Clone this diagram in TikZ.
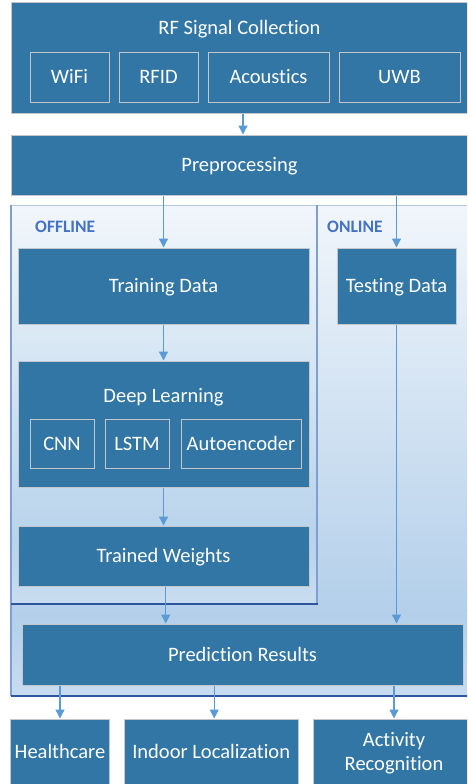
\documentclass[tikz,border=0pt]{standalone}
\usepackage{fontspec}
\setmainfont{Carlito}[Ligatures=NoCommon]
\usetikzlibrary{arrows.meta}
\definecolor{boxblue}{HTML}{3176A4}
\definecolor{boxedge}{HTML}{C3C7CC}
\definecolor{arrowblue}{HTML}{5B9BD5}
\definecolor{lab}{HTML}{4472C4}
\definecolor{gtop}{HTML}{F1F6FB}
\definecolor{gmid}{HTML}{B3CFEA}
\definecolor{gbot}{HTML}{C8DCF0}
\definecolor{gmidoff}{HTML}{B8D3EB}
\definecolor{gbotoff}{HTML}{C9DDF0}
\definecolor{edgemid}{HTML}{7F9ED2}
\definecolor{edgedark}{HTML}{2F55A0}
\definecolor{edgelight}{HTML}{B4C8E2}
\begin{document}
\begin{tikzpicture}[x=1pt,y=-1pt,
  box/.style={draw=boxedge, line width=1pt, fill=boxblue, text=white,
    font=\fontsize{20.5}{24}\selectfont, inner sep=0pt,
    text height=13pt, text depth=0pt},
  title/.style={text=white, font=\fontsize{20.5}{24}\selectfont, inner sep=0pt, anchor=base},
  zone/.style={text=lab, font=\fontsize{17.5}{20}\selectfont\bfseries, inner sep=0pt, anchor=base west},
  arr/.style={draw=arrowblue, line width=1.3pt, -{Triangle[width=9pt,length=9pt]}}
]
\clip (0,0) rectangle (467,784);

% containers
\shade[top color=gtop, bottom color=gmid] (11,205) rectangle (475,615);
\shade[top color=gmid, bottom color=gbot] (11,615) rectangle (475,696);
\shade[top color=gtop, bottom color=gmidoff] (11,205) rectangle (317,540);
\shade[top color=gmidoff, bottom color=gbotoff] (11,540) rectangle (317,604);
\draw[edgelight, line width=1pt] (11,205) -- (475,205);
\draw[edgemid, line width=2pt] (11,205) -- (11,696);
\draw[edgemid, line width=1.6pt] (317,205) -- (317,604);
\draw[edgedark, line width=1.2pt] (11,604) -- (317.8,604);
\draw[edgedark, line width=1.2pt] (11,696) -- (475,696);
\node[zone] (offl) at (35,232) {OFFLINE};
\node[zone] (onl) at (327,232) {ONLINE};

% RF signal collection
\node[box, minimum width=457pt, minimum height=110pt] (rf) at (239.5,58) {};
\node[title] (rft) at (239.5,35) {RF Signal Collection};
\node[box, minimum width=79pt, minimum height=49pt] (wifi) at (69.5,77.5) {WiFi};
\node[box, minimum width=79pt, minimum height=49pt] (rfid) at (158.5,77.5) {RFID};
\node[box, minimum width=121pt, minimum height=49pt] (acou) at (268.5,77.5) {Acoustics};
\node[box, minimum width=121pt, minimum height=49pt] (uwb) at (399.5,77.5) {UWB};

\node[box, minimum width=457pt, minimum height=60pt] (pre) at (239.5,165) {Preprocessing};

\node[box, minimum width=291pt, minimum height=76pt] (train) at (163.5,286) {Training Data};
\node[box, minimum width=119pt, minimum height=76pt] (test) at (396.5,286) {Testing Data};

\node[box, minimum width=291pt, minimum height=126pt] (dl) at (163.5,424) {};
\node[title] (dlt) at (163.5,402) {Deep Learning};
\node[box, minimum width=64pt, minimum height=49pt] (cnn) at (62,443.5) {CNN};
\node[box, minimum width=64pt, minimum height=49pt] (lstm) at (137,443.5) {LSTM};
\node[box, minimum width=120pt, minimum height=49pt] (auto) at (241,443.5) {Autoencoder};

\node[box, minimum width=291pt, minimum height=60pt] (tw) at (163.5,556) {Trained Weights};

\node[box, minimum width=441pt, minimum height=61pt] (pred) at (242.5,654.5) {Prediction Results};

\node[box, minimum width=98.6pt, minimum height=66pt] (health) at (60,752) {Healthcare};
\node[box, minimum width=174.3pt, minimum height=66pt] (indoor) at (211.2,752) {Indoor Localization};
\node[box, minimum width=162pt, minimum height=66pt, align=center, text height=37pt, text depth=0pt] (act) at (394,752) {Activity\\Recognition};

% connectors
\draw[arr] ([xshift=3.5pt]rf.south) -- ([xshift=3.5pt]pre.north);
\draw[arr] (pre.south -| train.north) -- (train.north);
\draw[arr] (pre.south -| test.north) -- (test.north);
\draw[arr] (train.south) -- (dl.north);
\draw[arr] (dl.south) -- (tw.north);
\draw[arr] ([xshift=2.2pt]tw.south) -- ([xshift=2.2pt]tw.south |- pred.north);
\draw[arr] (test.south) -- (test.south |- pred.north);
\draw[arr] (pred.south -| health.north) -- (health.north);
\draw[arr] ([xshift=3pt]pred.south -| indoor.north) -- ([xshift=3pt]indoor.north);
\draw[arr] (pred.south -| act.north) -- (act.north);
\end{tikzpicture}
\end{document}
